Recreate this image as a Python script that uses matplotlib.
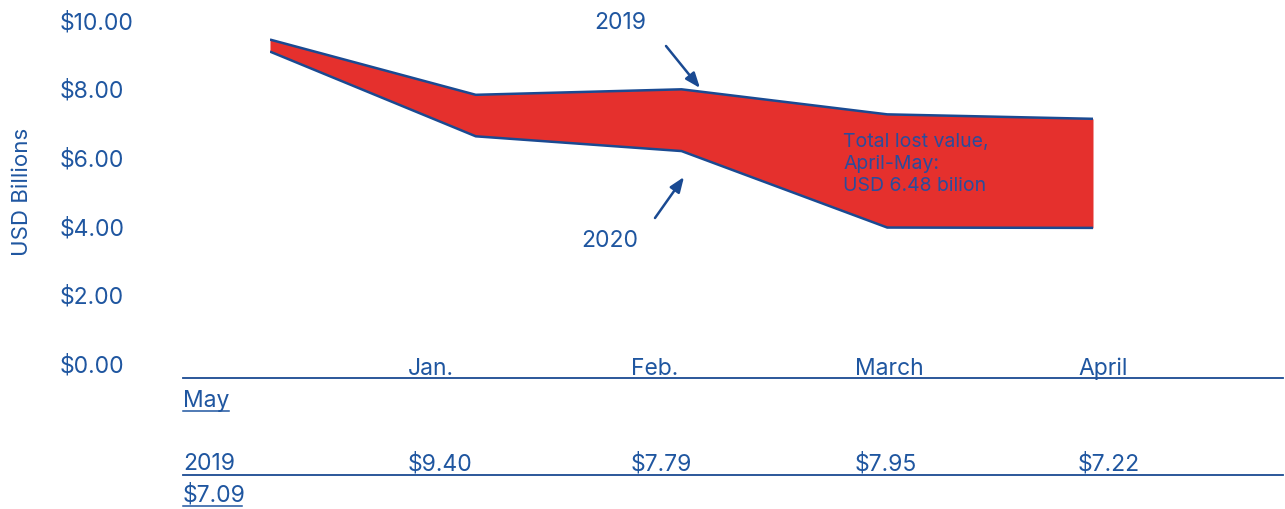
import matplotlib
matplotlib.use("Agg")
import matplotlib.pyplot as plt
from matplotlib.transforms import blended_transform_factory, offset_copy
from matplotlib.lines import Line2D

plt.rcParams['font.family'] = ['Inter', 'DejaVu Sans']

months = ["Jan.", "Feb.", "March", "April", "May"]
values_2019 = [9.40, 7.79, 7.95, 7.22, 7.09]
values_2020 = [9.05, 6.58, 6.15, 3.92, 3.91]
y_ticks = [0, 2, 4, 6, 8, 10]

BLUE = "#1f56a0"
LINE = "#1a4a92"
RED = "#e5302d"

W, H = 1285, 509
fig = plt.figure(figsize=(W / 100, H / 100), dpi=100)

# main plot area: x 270..1093 px, y $0 at ~362 px, $10 at ~19 px
ax = fig.add_axes([270 / W, (H - 362) / H, (1093 - 270) / W, 343 / H])
x = list(range(len(months)))
ax.fill_between(x, values_2020, values_2019, color=RED, linewidth=0)
ax.plot(x, values_2019, color=LINE, lw=1.8, solid_capstyle='butt')
ax.plot(x, values_2020, color=LINE, lw=1.8, solid_capstyle='butt')
ax.set_xlim(0, len(months) - 1)
ax.set_ylim(0, 10)
ax.axis('off')

# y tick labels, left aligned
trans = blended_transform_factory(fig.transFigure, ax.transData)
trans = offset_copy(trans, fig=fig, x=0, y=-4, units='dots')
for v in y_ticks:
    fig.text(60 / W, v, f"${v:.2f}", transform=trans, ha='left', va='center',
             fontsize=16.5, color=BLUE)

fig.text(22 / W, (H - 192) / H, "USD Billions", rotation=90, ha='center',
         va='center', fontsize=16, color=BLUE)

# annotations
ax.text(843 / W, (H - 133) / H, "Total lost value,\nApril-May:\nUSD 6.48 bilion",
        transform=fig.transFigure, ha='left', va='top', fontsize=14,
        color="#2a4c9c", linespacing=1.3)

fig.text(620 / W, (H - 23) / H, "2019", ha='center', va='center', fontsize=16.5, color=BLUE)
fig.text(610 / W, (H - 241) / H, "2020", ha='center', va='center', fontsize=16.5, color=BLUE)
ax.annotate("", xy=(700, H - 88), xytext=(666, H - 46), xycoords='figure pixels',
            textcoords='figure pixels',
            arrowprops=dict(arrowstyle='-|>,head_length=0.9,head_width=0.35',
                            color=LINE, lw=1.8, shrinkA=0, shrinkB=0))
ax.annotate("", xy=(684, H - 177), xytext=(655, H - 218), xycoords='figure pixels',
            textcoords='figure pixels',
            arrowprops=dict(arrowstyle='-|>,head_length=0.9,head_width=0.35',
                            color=LINE, lw=1.8, shrinkA=0, shrinkB=0))

# table underneath
col_x = [183, 408, 631, 855, 1078]
fs = 16.5
for m, cx in zip(months[:4], col_x[1:]):
    fig.text(cx / W, (H - 369) / H, m, ha='left', va='center', fontsize=fs, color=BLUE)
fig.text(183 / W, (H - 401) / H, months[4], ha='left', va='center', fontsize=fs, color=BLUE)
fig.text(183 / W, (H - 464) / H, "2019", ha='left', va='center', fontsize=fs, color=BLUE)
for v, cx in zip(values_2019[:4], col_x[1:]):
    fig.text(cx / W, (H - 464) / H, f"${v:.2f}", ha='left', va='center', fontsize=fs, color=BLUE)
fig.text(183 / W, (H - 495) / H, f"${values_2019[4]:.2f}", ha='left', va='center',
         fontsize=fs, color=BLUE)

for yy in (378, 475):
    fig.add_artist(Line2D([183 / W, 1283 / W], [(H - yy) / H] * 2, color=LINE, lw=1.3))
fig.add_artist(Line2D([183 / W, 229 / W], [(H - 411) / H] * 2, color=BLUE, lw=1.1))
fig.add_artist(Line2D([183 / W, 242 / W], [(H - 506) / H] * 2, color=BLUE, lw=1.1))

fig.savefig("out.png", dpi=100)
